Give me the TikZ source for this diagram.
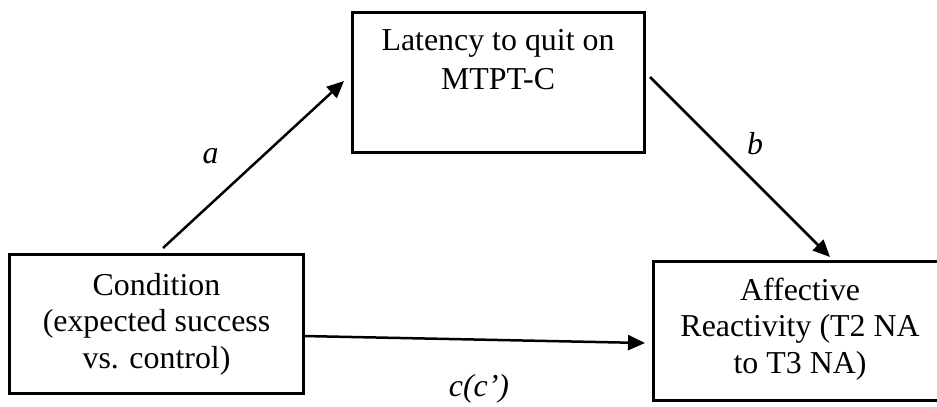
\documentclass[tikz,border=0pt]{standalone}
\usepackage{fontspec}
\setmainfont{Liberation Serif}
\usetikzlibrary{arrows.meta,calc}
\begin{document}
\begin{tikzpicture}[x=1bp,y=-1bp,
  box/.style={draw, line width=3bp, inner sep=0pt, outer sep=0pt},
  boxtext/.style={anchor=base, align=center, inner sep=0pt,
    font=\fontsize{32}{36.5}\selectfont},
  pathlabel/.style={anchor=base, inner sep=0pt,
    font=\fontsize{32}{36.5}\selectfont\itshape},
  conn/.style={-{Triangle[length=17bp,width=15bp]}, line width=2.5bp}]
\useasboundingbox (0,0) rectangle (937,406);
\clip (0,0) rectangle (937,406);

% variable boxes
\node[box, minimum width=292bp, minimum height=140bp] (lat)  at (498,82) {};
\node[box, minimum width=293bp, minimum height=139bp] (cond) at (156.5,323.5) {};
\node[box, minimum width=294bp, minimum height=139bp] (aff)  at (800,330.5) {};

% box texts (anchored at the baseline of their last line)
\node[boxtext, font=\fontsize{32}{39}\selectfont] (latT) at (498,89) {Latency to quit on\\MTPT-C};
\node[boxtext] (condT) at (156.5,368) {Condition\\(expected success\\vs. control)};
\node[boxtext] (affT)  at (800,373) {Affective\\Reactivity (T2 NA\\to T3 NA)};

% connector end points
\coordinate (aS) at ($(cond.north west)+(153,-6)$);
\coordinate (aE) at ($(lat.west)+(-8,-1)$);
\coordinate (bS) at ($(lat.east)+(6,-5)$);
\coordinate (bE) at ($(aff.north west)+(177,-4)$);
\coordinate (cS) at ($(cond.east)+(0,12.5)$);
\coordinate (cE) at ($(aff.west)+(-8,12.5)$);

% paths
\draw[conn] (aS) -- (aE);
\draw[conn] (bS) -- (bE);
\draw[conn] (cS) -- (cE);

% path labels
\node[pathlabel] (la) at (210.5,163) {a};
\node[pathlabel] (lb) at (755,154) {b};
\node[pathlabel] (lc) at (479,396) {c(c’)};
\end{tikzpicture}
\end{document}
